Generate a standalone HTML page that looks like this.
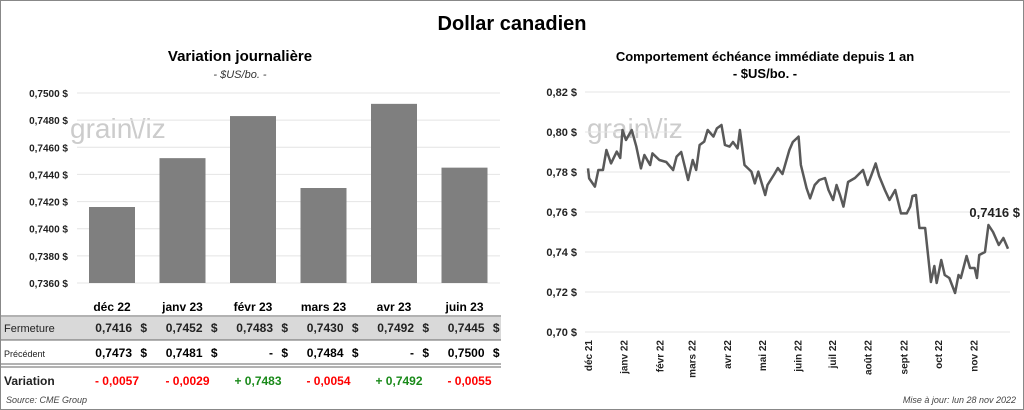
<!DOCTYPE html>
<html><head><meta charset="utf-8"><style>
body{margin:0;width:1024px;height:410px;overflow:hidden;background:#fff;font-family:"Liberation Sans",sans-serif}
#frame{position:absolute;left:0;top:0;width:1022px;height:408px;border:1px solid #888}
</style></head><body>
<div id="frame"></div>
<svg id="svg" width="1024" height="410" style="position:absolute;left:0;top:0" font-family="Liberation Sans, sans-serif">
<text x="512" y="30" text-anchor="middle" font-size="20" font-weight="bold">Dollar canadien</text>
<text x="240" y="61" text-anchor="middle" font-size="15" font-weight="bold">Variation  journalière</text>
<text x="240" y="78" text-anchor="middle" font-size="11" font-style="italic" fill="#333">- $US/bo. -</text>
<text x="765" y="61" text-anchor="middle" font-size="13" font-weight="bold">Comportement échéance immédiate depuis 1 an</text>
<text x="765" y="78" text-anchor="middle" font-size="13" font-weight="bold">- $US/bo. -</text>
<text x="70" y="138" font-size="28" fill="#ccc">grain</text><text x="130" y="138" font-size="28" fill="#ccc">\/iz</text>
<text x="587" y="138" font-size="28" fill="#ccc">grain</text><text x="647" y="138" font-size="28" fill="#ccc">\/iz</text>
<g id="left"></g><g id="right"></g><g id="table"></g>
<text x="6" y="403" font-size="9" font-style="italic" fill="#444">Source: CME Group</text>
<text x="1016" y="403" text-anchor="end" font-size="9" font-style="italic" fill="#444">Mise à jour: lun 28 nov 2022</text>
</svg>
<script>
const months=["déc 22","janv 23","févr 23","mars 23","avr 23","juin 23"];
const closes=[0.7416,0.7452,0.7483,0.7430,0.7492,0.7445];
const prevs=["0,7473","0,7481","-","0,7484","-","0,7500"];
const variations=["- 0,0057","- 0,0029","+ 0,7483","- 0,0054","+ 0,7492","- 0,0055"];
const leftTicks=[0.736,0.738,0.740,0.742,0.744,0.746,0.748,0.750];
const rightTicks=[0.70,0.72,0.74,0.76,0.78,0.80,0.82];
const monthLabels=["déc 21","janv 22","févr 22","mars 22","avr 22","mai 22","juin 22","juil 22","août 22","sept 22","oct 22","nov 22"];
const monthDays=[0,31,62,90,121,151,182,212,243,274,304,335];
const days=[0,1,6,9,13,16,20,25,28,30,33,38,42,46,49,54,56,62,68,74,77,81,87,91,94,97,101,104,109,112,116,119,123,126,130,132,136,142,145,148,154,156,162,165,169,175,178,183,185,190,193,197,201,206,209,213,216,219,222,226,232,239,243,246,250,253,258,262,267,272,277,280,282,285,288,293,298,301,303,307,310,314,319,322,324,329,332,336,338,340,345,348,352,357,361,365];
const prices=[0.7818,0.7768,0.7727,0.781,0.781,0.791,0.7843,0.7902,0.787,0.801,0.796,0.801,0.7927,0.7818,0.7885,0.7835,0.7893,0.786,0.785,0.781,0.7877,0.790,0.776,0.786,0.781,0.7935,0.7952,0.801,0.7977,0.8018,0.8035,0.7935,0.7927,0.795,0.7918,0.801,0.7835,0.7802,0.7743,0.7802,0.7685,0.7735,0.779,0.782,0.779,0.791,0.795,0.7977,0.7835,0.7718,0.7668,0.7735,0.776,0.777,0.771,0.766,0.7735,0.7685,0.7627,0.775,0.777,0.781,0.7735,0.778,0.7843,0.778,0.771,0.766,0.771,0.7593,0.7593,0.7627,0.768,0.7685,0.752,0.752,0.725,0.733,0.7245,0.736,0.7285,0.727,0.7195,0.7285,0.727,0.738,0.732,0.732,0.727,0.7385,0.740,0.7535,0.750,0.7435,0.747,0.7416];
const NS="http://www.w3.org/2000/svg";
function mk(p,tag,a,txt){const e=document.createElementNS(NS,tag);for(const k in a)e.setAttribute(k,a[k]);if(txt!==undefined)e.textContent=txt;p.appendChild(e);return e;}
const fmt=(v,d)=>v.toFixed(d).replace('.',',');
const L=document.getElementById('left');
const ly=v=>283-(v-0.736)/(0.750-0.736)*190;
const lx0=77,cw=70.5;
leftTicks.forEach(t=>{
 const g=mk(L,'line',{x1:lx0,x2:500,y1:ly(t),y2:ly(t),stroke:'#e4e4e4'});
 
 const tx=mk(L,'text',{x:68,y:ly(t)+4,'text-anchor':'end','font-size':10,'font-weight':'bold',fill:'#222'},fmt(t,4)+' $');
 
});
closes.forEach((v,i)=>{
 const r=mk(L,'rect',{x:lx0+i*cw+12,y:ly(v),width:46,height:283-ly(v),fill:'#7f7f7f'});
 
});
const T=document.getElementById('table');
const gr=mk(T,'rect',{x:1,y:317,width:500,height:23,fill:'#d9d9d9'});

[[316,1],[340,1],[364,1],[367,1]].forEach(([y,w])=>{const l=mk(T,'line',{x1:1,x2:501,y1:y,y2:y,stroke:'#666','stroke-width':w});});
const rl=[['Fermeture',332,11,'normal'],['Précédent',357,9,'normal'],['Variation',385,12,'bold']];
rl.forEach(([t,y,s,w])=>{const e=mk(T,'text',{x:4,y:y,'font-size':s,'font-weight':w,fill:'#222'},t);});
months.forEach((m,i)=>{
 const c=lx0+i*cw+35;
 let e=mk(T,'text',{x:c,y:311,'text-anchor':'middle','font-size':12,'font-weight':'bold'},m);
 
 e=mk(T,'text',{x:c+20,y:332,'text-anchor':'end','font-size':12,'font-weight':'bold',fill:'#222'},fmt(closes[i],4));
 
 mk(T,'text',{x:c+35,y:332,'text-anchor':'end','font-size':12,'font-weight':'bold',fill:'#222'},'$');
 e=mk(T,'text',{x:c+20,y:357,'text-anchor':'end','font-size':12,'font-weight':'bold'},prevs[i]==='-'?'-  ':prevs[i]);
 
 mk(T,'text',{x:c+35,y:357,'text-anchor':'end','font-size':12,'font-weight':'bold'},'$');
 e=mk(T,'text',{x:c+5,y:385,'text-anchor':'middle','font-size':12,'font-weight':'bold',fill:variations[i][0]==='-'?'#f00':'#1a8a1a'},variations[i]);
 
});
const R=document.getElementById('right');
const ry=v=>332-(v-0.70)/0.12*240;
const rx=d=>588+d/365*420;
rightTicks.forEach(t=>{
 const g=mk(R,'line',{x1:585,x2:1010,y1:ry(t),y2:ry(t),stroke:'#e4e4e4'});
 
 const tx=mk(R,'text',{x:577,y:ry(t)+4,'text-anchor':'end','font-size':11,'font-weight':'bold',fill:'#222'},fmt(t,2)+' $');
 
});
monthLabels.forEach((m,i)=>{
 const x=rx(monthDays[i])+4;
 const tx=mk(R,'text',{x:x,y:340,'text-anchor':'end','font-size':10,'font-weight':'bold',fill:'#222',transform:`rotate(-90 ${x} 340)`},m);
 
});
const pl=mk(R,'polyline',{points:days.map((d,i)=>rx(d)+','+ry(prices[i])).join(' '),fill:'none',stroke:'#595959','stroke-width':2.5,'stroke-linejoin':'round'});

const lab=mk(R,'text',{x:1020,y:217,'text-anchor':'end','font-size':13,'font-weight':'bold',fill:'#222'},fmt(prices[prices.length-1],4)+' $');

</script>
</body></html>
